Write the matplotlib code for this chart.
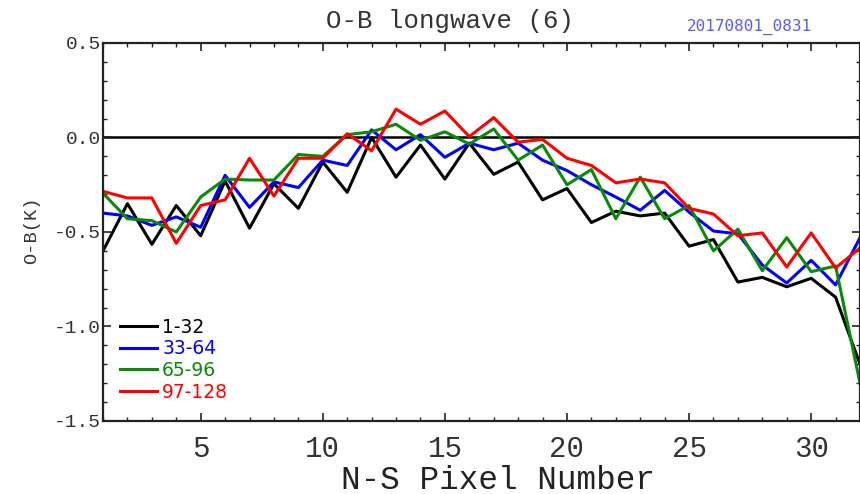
import numpy as np
import matplotlib
matplotlib.use('Agg')
import matplotlib.pyplot as plt
from matplotlib.ticker import MultipleLocator

plt.rcParams['axes.unicode_minus'] = False

#%% O-B values per N-S pixel for each detector group
pixel = np.arange(1, 33)

ob_1_32 = [-0.60, -0.35, -0.565, -0.36, -0.52, -0.23, -0.48, -0.245, -0.375, -0.13,
           -0.29, 0.00, -0.21, -0.04, -0.22, -0.03, -0.195, -0.13, -0.33, -0.27,
           -0.45, -0.39, -0.415, -0.40, -0.575, -0.54, -0.765, -0.74, -0.79, -0.745,
           -0.845, -1.20]
ob_33_64 = [-0.40, -0.415, -0.465, -0.42, -0.475, -0.20, -0.37, -0.235, -0.265, -0.12,
            -0.148, 0.04, -0.065, 0.015, -0.105, -0.03, -0.065, -0.03, -0.12, -0.175,
            -0.25, -0.315, -0.385, -0.28, -0.395, -0.495, -0.51, -0.675, -0.77, -0.65,
            -0.78, -0.53]
ob_65_96 = [-0.295, -0.43, -0.44, -0.50, -0.315, -0.22, -0.225, -0.225, -0.09, -0.10,
            0.015, 0.03, 0.07, -0.015, 0.03, -0.035, 0.045, -0.12, -0.04, -0.25,
            -0.17, -0.43, -0.21, -0.43, -0.36, -0.60, -0.485, -0.705, -0.53, -0.71,
            -0.68, -1.30]
ob_97_128 = [-0.285, -0.32, -0.32, -0.56, -0.36, -0.33, -0.11, -0.31, -0.11, -0.11,
             0.02, -0.07, 0.15, 0.07, 0.14, 0.005, 0.105, -0.025, -0.01, -0.11,
             -0.148, -0.24, -0.22, -0.24, -0.375, -0.405, -0.52, -0.505, -0.685, -0.505,
             -0.69, -0.585]

series = [ob_1_32, ob_33_64, ob_65_96, ob_97_128]
labels = ['1-32', '33-64', '65-96', '97-128']
colors = ['black', 'blue', '#0a8a0a', 'red']

mono = 'Liberation Mono'

#%% Plot
fig = plt.figure(figsize=(8.6, 4.94), dpi=100)
ax = fig.add_axes([0.1198, 0.1478, 0.8802, 0.7652])

for vals, lab, col in zip(series, labels, colors):
    ax.plot(pixel, vals, color=col, lw=2.2, label=lab)
ax.axhline(0.0, color='black', lw=1.8, zorder=1)

ax.set_xlim(1, 32)
ax.set_ylim(-1.5, 0.5)
ax.xaxis.set_major_locator(MultipleLocator(5))
ax.xaxis.set_minor_locator(MultipleLocator(1))
ax.yaxis.set_major_locator(MultipleLocator(0.5))
ax.yaxis.set_minor_locator(MultipleLocator(0.1))
ax.tick_params(which='both', direction='in', top=True, right=True, color='#222222')
ax.tick_params(which='major', length=6, width=1.2)
ax.tick_params(which='minor', length=3, width=1.0)
ax.tick_params(axis='x', which='major', pad=10, labelsize=21)
ax.tick_params(axis='y', which='major', pad=1.5, labelsize=14)
for lbl in ax.get_xticklabels() + ax.get_yticklabels():
    lbl.set_family(mono)
    lbl.set_color('#333333')
ax.yaxis.set_major_formatter(plt.FuncFormatter(lambda v, p: f'{v:.1f}'))
for sp in ax.spines.values():
    sp.set_linewidth(1.6)
    sp.set_color('#222222')

fig.text(0.523, 0.958, 'O-B longwave (6)', family=mono, fontsize=18.5,
         color='#333333', ha='center', va='center')
fig.text(0.872, 0.945, '20170801_0831', family='DejaVu Sans Mono', fontsize=11.5,
         color='#5a5aff', ha='center', va='center')
fig.text(0.579, 0.028, 'N-S Pixel Number', family=mono, fontsize=23.5,
         color='#222222', ha='center', va='center')
fig.text(0.037, 0.534, 'O-B(K)', family=mono, fontsize=13.5, color='#333333',
         rotation=90, ha='center', va='center')

leg = ax.legend(loc='upper left', bbox_to_anchor=(0.012, 0.293), frameon=False,
                handlelength=2.0, handletextpad=0.27, labelspacing=0.14,
                borderaxespad=0.0, labelcolor='linecolor',
                prop={'family': 'DejaVu Sans', 'size': 13.5})

fig.savefig('out.png', dpi=100)
